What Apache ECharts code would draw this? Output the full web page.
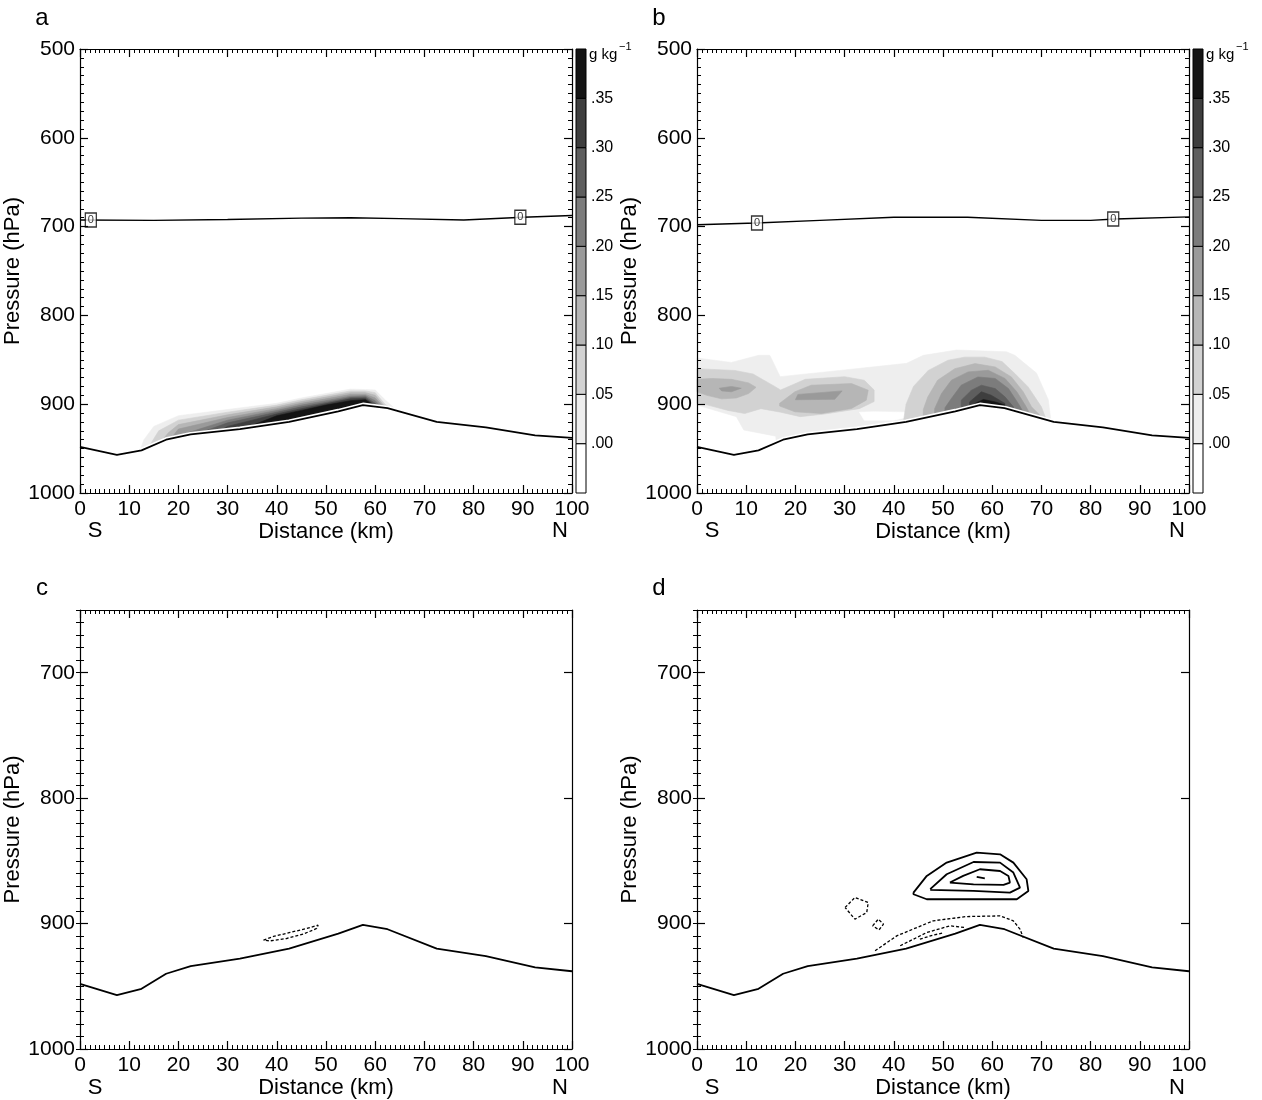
<!DOCTYPE html>
<html><head><meta charset="utf-8">
<script src="https://cdn.jsdelivr.net/npm/echarts@6/dist/echarts.min.js"></script>
<style>html,body{margin:0;padding:0;background:#fff}#c{width:1262px;height:1100px}</style>
</head><body><div id="c"></div>
<script>
// ---------------- DATA ----------------
const distTicks = [0,10,20,30,40,50,60,70,80,90,100];
const pTicksAB = [500,600,700,800,900,1000];
const pTicksCD = [700,800,900,1000];
const cbLevels = [-0.05,0,0.05,0.10,0.15,0.20,0.25,0.30,0.35,0.40];
const cbColors = ['#ffffff','#eeeeee','#d2d2d2','#b6b6b6','#9a9a9a','#7c7c7c','#5e5e5e','#3e3e3e','#141414'];

// terrain (distance km, pressure hPa)
const terrain = [[0,948],[7.5,957],[12.5,952],[17.5,940],[22.5,934],[32.5,928],[42.5,920],[52.5,908],[57.5,901],[62.5,904.5],[72.5,920],[82.5,926],[92.5,935],[100,938]];

// zero contours
const zeroA = [[0,692.5],[15,693],[30,692],[45,690.5],[55,690],[65,691],[78,692.5],[90,689.5],[100,687.5]];
const zeroB = [[0,698],[12,696],[25,693],[40,689.5],[55,689.5],[70,693],[80,693],[85,691.5],[100,689]];
const zeroLabA = [[2.2,692.5],[89.5,689.5]];
const zeroLabB = [[12.2,696],[84.6,691.5]];

// panel a filled contours (levels .00 ... .35)
const aL0 = [[12,990],[12,955],[13,940],[15,925],[20,913],[30,906],[40,899],[45,893],[50,888],[55,883],[58,883.5],[60,884],[62,895],[64,905],[67,915],[68,925],[68,990]];
const aL1 = [[14,990],[14,948],[16,930],[20,918],[30,909],[40,901],[45,895],[50,890],[55,885],[58,885],[60,887],[62,900],[64,908],[66,918],[66,990]];
const aL2 = [[16,990],[16,945],[18,932],[20,923],[30,912],[40,903],[45,897],[50,892],[55,887],[58,887],[60,890],[62,903],[64.5,912],[64.5,990]];
const aL3 = [[18,990],[18,942],[20,928],[30,915],[40,905],[45,899],[50,894],[55,889],[58,889],[60,893],[62,905],[63,910],[63,990]];
const aL4 = [[20,990],[20,937],[22,932],[30,918],[40,907],[45,901],[50,896],[55,891],[58,890.5],[60,896],[62,908],[62,990]];
const aL5 = [[24,990],[24,933],[30,921],[40,909],[45,903],[50,898],[55,892.5],[58,892],[60,899],[61.5,907],[61.5,990]];
const aL6 = [[28,990],[28,931],[30,925],[40,911],[45,905],[50,899.5],[55,894],[58,893.5],[60,901],[61,906],[61,990]];
const aL7 = [[34,990],[34,926],[40,913],[45,907],[50,901],[55,896],[58,895],[60,902],[60.5,906],[60.5,990]];

// panel b filled contours
const bL0 = [[0,848],[7,853],[12.5,845],[14.8,845],[16.9,869],[29,862],[42.6,854],[46,845],[52.8,839],[62.9,841],[64.6,845],[69,865],[71.4,895],[72,922],[72,990],[17,990],[16,936],[9.5,929],[8,914],[0,901]];
const bWhite = [[33,909],[36,908.5],[42,909],[44,913],[40,918],[34,918]];
const bL1a = [[0,860],[7.7,862],[11.4,866],[15.8,880],[17,884],[22,872],[30,869],[34,873],[36,884],[36,897],[33,905],[26,911],[21,914],[17,909],[13,905],[9.7,910.5],[6.3,907],[2.2,901],[0,899]];
const bL2a = [[0,872],[3,871],[7,872],[10.5,876],[12,881],[10.5,888],[8,893],[5,894],[2,890],[0,886]];
const bL3a = [[4.5,882],[7,880],[9,882],[7,886],[5,885]];
const bL2b = [[16.8,899],[19.9,886],[23.2,878.6],[31.4,876.8],[34.8,884.2],[34.4,895.5],[31.4,904.8],[25.3,910.5],[19.9,908.6],[16.8,902]];
const bL3b = [[20,895],[20.5,889],[29.5,885],[28,894.5]];
const bL1c = [[42,990],[42,918],[42.5,900],[44,880],[47,862],[51,850.5],[54.4,847],[58.5,847],[62,852],[64.6,865.5],[67.3,880.5],[70,903],[71.5,925],[71.5,990]];
const bL2c = [[45.5,990],[46,906],[46.9,892],[48.9,873],[52.4,860],[56.5,854.3],[60.6,858],[63.9,869.3],[66.3,886],[68,903],[70.7,918],[70.7,990]];
const bL3c = [[48,990],[48.3,905],[49.7,888],[51.7,873],[55.1,863.6],[59.2,861.8],[62.6,871],[65,886],[66.7,901],[68,914],[68,990]];
const bL4c = [[50.2,990],[50.4,904],[51.7,893.6],[53.7,878.6],[57.1,869.3],[60.6,871],[63.3,882.4],[65.3,899.2],[66.3,908.6],[66.3,990]];
const bL5c = [[53.3,990],[53.7,895.5],[55.8,884.2],[57.8,878.6],[60.6,882.4],[62.6,891.7],[64.3,903],[64.3,990]];
const bL6c = [[55,990],[55.4,897.4],[57.8,886],[59.8,889.9],[62.6,899.2],[62.6,990]];
const bL7c = [[56.3,990],[56.5,899.2],[58.2,894.7],[60.6,897.4],[62.6,901],[62.6,990]];

// panel c contour (dashed)
const cDash = [[37.3,913.2],[39.3,910.3],[42.7,907.1],[46.1,903.9],[48.4,901.3],[48.1,903.9],[45.4,908.4],[42,911.9],[38.6,913.8],[37.3,913.2]];

// panel d contours
const dSolid1 = [[44,875.3],[46.7,862],[50.75,851.4],[56.85,843.4],[61.6,844.8],[64.3,851.4],[67,864.7],[67.35,874],[65,880.6],[58.2,880.6],[46.7,880.6],[44,876.6],[44,875.3]];
const dSolid2 = [[47.4,872.6],[50.75,860.7],[56.2,850.9],[61.6,851.4],[64.3,859.3],[65.65,871.3],[63.6,875.3],[56.2,874],[47.4,873.1],[47.4,872.6]];
const dSolid3 = [[51.4,867.3],[54.1,862],[57.5,856.7],[61.6,858.1],[63.3,862],[63.6,867.3],[62.3,869.2],[56.2,868.7],[51.4,867.3]];
const dSolid4 = [[56.85,862.8],[58.5,863.9]];
const dDash1 = [[30.1,887.2],[32.1,879.2],[34.8,883.2],[34.5,891.2],[32.1,896.5],[30.1,887.2]];
const dDash2 = [[35.7,901.8],[36.85,896.5],[37.9,900.5],[37,905],[35.7,901.8]];
const dDash3 = [[36.2,921.7],[40.6,909.8],[48,897.8],[54.8,894.4],[61.6,893.9],[64.3,897.8],[65.65,904.5],[66.3,911.1]];
const dDash4 = [[41.3,917.7],[46.7,907.1],[51.4,901.8],[54.5,903.1]];
const dDash5 = [[45.3,912.4],[48,909.2],[49.9,907.6]];

// ---------------- CHART ----------------
const FONT = 'Liberation Sans, Arial, Helvetica, sans-serif';
const TICK = 21, NAME = 22;
const grids = [
  {left:80, top:49, width:492, height:444},
  {left:697, top:49, width:492, height:444},
  {left:80, top:610, width:492, height:440},
  {left:697, top:610, width:492, height:440},
  {left:576, top:49, width:10, height:444},
  {left:1193, top:49, width:10, height:444}
];
const xAxes = [], yAxes = [], series = [];
const xIdx = [], yIdx = [];
const lineS = {color:'#000', width:1.2};
const plain = v => String(v);

function addPanel(gi, yMin, yTicks) {
  xIdx[gi] = xAxes.length;
  const common = {gridIndex:gi, type:'value', min:0, max:100, interval:10, z:10,
    splitLine:{show:false},
    axisLine:{show:true, onZero:false, lineStyle:lineS},
    axisTick:{show:true, inside:true, length:8, lineStyle:lineS},
    minorTick:{show:true, splitNumber:10, length:4, lineStyle:{color:'#000', width:1}}};
  xAxes.push(Object.assign({}, common, {position:'bottom',
    name:'Distance (km)', nameLocation:'middle', nameGap:28,
    nameTextStyle:{fontSize:NAME, color:'#000', fontFamily:FONT},
    axisLabel:{show:true, fontSize:TICK, color:'#000', fontFamily:FONT, margin:6,
      customValues: distTicks, formatter: plain}}));
  xAxes.push(Object.assign({}, common, {position:'top', axisLabel:{show:false}}));
  yIdx[gi] = yAxes.length;
  const yc = {gridIndex:gi, type:'value', inverse:true, min:yMin, max:1000, z:10,
    splitLine:{show:false}, axisLine:{show:true, onZero:false, lineStyle:lineS}};
  const yName = {name:'Pressure (hPa)', nameLocation:'middle', nameGap:40, nameRotate:90,
      nameTextStyle:{fontSize:NAME, color:'#000', fontFamily:FONT}};
  if (yMin === 500) {
    const t = {interval:100, axisTick:{show:true, inside:true, length:8, lineStyle:lineS},
      minorTick:{show:true, splitNumber:10, length:4, lineStyle:{color:'#000', width:1}}};
    yAxes.push(Object.assign({}, yc, t, yName, {position:'left',
      axisLabel:{show:true, fontSize:TICK, color:'#000', fontFamily:FONT, margin:5, customValues: yTicks, formatter: plain}}));
    yAxes.push(Object.assign({}, yc, t, {position:'right', axisLabel:{show:false}}));
  } else {
    const major = {interval:50, axisTick:{show:true, inside:true, length:8, lineStyle:lineS, customValues: yTicks}};
    const minor = {interval:10, axisLine:{show:false}, axisLabel:{show:false},
      axisTick:{show:true, inside:true, length:4, lineStyle:{color:'#000', width:1}}};
    yAxes.push(Object.assign({}, yc, major, yName, {position:'left',
      axisLabel:{show:true, fontSize:TICK, color:'#000', fontFamily:FONT, margin:5, customValues: yTicks,
        formatter: v => (v % 100 === 0 ? String(v) : '')}}));
    yAxes.push(Object.assign({}, yc, major, {position:'right', axisLabel:{show:false}}));
    yAxes.push(Object.assign({}, yc, minor, {position:'left'}));
    yAxes.push(Object.assign({}, yc, minor, {position:'right'}));
  }
}
addPanel(0, 500, pTicksAB);
addPanel(1, 500, pTicksAB);
addPanel(2, 650, pTicksCD);
addPanel(3, 650, pTicksCD);

function addColorbar(gi) {
  xIdx[gi] = xAxes.length;
  xAxes.push({gridIndex:gi, type:'value', min:0, max:1, show:false});
  yIdx[gi] = yAxes.length;
  yAxes.push({gridIndex:gi, type:'value', min:-0.05, max:0.40, interval:0.05, position:'right',
    splitLine:{show:false}, axisLine:{show:false}, axisTick:{show:false},
    axisLabel:{show:true, fontSize:16, color:'#000', fontFamily:FONT, margin:5,
      formatter: v => (v < -0.01 || v > 0.375) ? '' : '.' + String(Math.round(v*100)).padStart(2,'0')}});
  const data = [];
  for (let i = 0; i < cbColors.length; i++) data.push([cbLevels[i], cbLevels[i+1], i]);
  series.push({type:'custom', xAxisIndex:xIdx[gi], yAxisIndex:yIdx[gi], data: data, silent:true,
    renderItem: function(params, api) {
      const p1 = api.coord([0, api.value(1)]);
      const p2 = api.coord([1, api.value(0)]);
      return {type:'rect', shape:{x:p1[0], y:p1[1], width:p2[0]-p1[0], height:p2[1]-p1[1]},
        style:{fill: cbColors[api.value(2)], stroke:'#000', lineWidth:1}};
    }});
}
addColorbar(4);
addColorbar(5);

function poly(pts, color, gi) {
  series.push({type:'custom', xAxisIndex:xIdx[gi], yAxisIndex:yIdx[gi], data: pts, silent:true, z:2,
    renderItem: function(params, api) {
      if (params.dataIndex !== 0) return null;
      const points = pts.map(p => api.coord(p));
      return {type:'polygon', shape:{points: points}, style:{fill: color, stroke: color, lineWidth:0.6}};
    }});
}
function line(pts, gi, style, z) {
  series.push({type:'line', xAxisIndex:xIdx[gi], yAxisIndex:yIdx[gi], data: pts, symbol:'none',
    silent:true, z: z || 4, lineStyle: style});
}
function mask(gi) {
  series.push({type:'line', xAxisIndex:xIdx[gi], yAxisIndex:yIdx[gi], data: terrain, symbol:'none',
    silent:true, z:3, lineStyle:{color:'#fff', width:5}, areaStyle:{color:'#fff', opacity:1, origin:'end'}});
}
function labels(pts, gi) {
  series.push({type:'scatter', xAxisIndex:xIdx[gi], yAxisIndex:yIdx[gi], data: pts, silent:true, z:6,
    symbol:'rect', symbolSize:[11,14],
    itemStyle:{color:'#fff', borderColor:'#000', borderWidth:1.4},
    label:{show:true, position:'inside', formatter:'0', fontSize:11, color:'#000', fontFamily:FONT}});
}
const C = cbColors;
// panel a
[aL0,aL1,aL2,aL3,aL4,aL5,aL6,aL7].forEach((p,i) => poly(p, C[i+1], 0));
mask(0);
line(terrain, 0, {color:'#000', width:1.8});
line(zeroA, 0, {color:'#000', width:1.4});
labels(zeroLabA, 0);
// panel b
poly(bL0, C[1], 1);
poly(bWhite, '#ffffff', 1);
poly(bL1a, C[2], 1); poly(bL2a, C[3], 1); poly(bL3a, C[4], 1);
poly(bL2b, C[3], 1); poly(bL3b, C[4], 1);
[bL1c,bL2c,bL3c,bL4c,bL5c,bL6c,bL7c].forEach((p,i) => poly(p, C[i+2], 1));
mask(1);
line(terrain, 1, {color:'#000', width:1.8});
line(zeroB, 1, {color:'#000', width:1.4});
labels(zeroLabB, 1);
// panel c
line(terrain, 2, {color:'#000', width:1.8});
line(cDash, 2, {color:'#000', width:1.3, type:[3,2]});
// panel d
line(terrain, 3, {color:'#000', width:1.8});
[dSolid1,dSolid2,dSolid3,dSolid4].forEach(p => line(p, 3, {color:'#000', width:1.8}));
[dDash1,dDash2,dDash3,dDash4,dDash5].forEach(p => line(p, 3, {color:'#000', width:1.3, type:[3,2]}));

function txt(s, x, y, size, align) {
  return {type:'text', x:x, y:y, silent:true,
    style:{text:s, fill:'#000', font: size + 'px ' + FONT, textAlign: align || 'center', textVerticalAlign:'middle', align: align || 'center', verticalAlign:'middle'}};
}
const graphics = [
  txt('a', 42, 18, 24), txt('b', 659, 18, 24), txt('c', 42, 588, 24), txt('d', 659, 588, 24),
  txt('S', 95, 531, NAME), txt('N', 560, 531, NAME), txt('S', 712, 531, NAME), txt('N', 1177, 531, NAME),
  txt('S', 95, 1088, NAME), txt('N', 560, 1088, NAME), txt('S', 712, 1088, NAME), txt('N', 1177, 1088, NAME),
  txt('g kg', 589, 55, 15, 'left'), txt('\u22121', 619, 47, 11, 'left'),
  txt('g kg', 1206, 55, 15, 'left'), txt('\u22121', 1236, 47, 11, 'left')
];

const chart = echarts.init(document.getElementById('c'), null, {renderer:'canvas'});
chart.setOption({
  animation:false, backgroundColor:'#fff',
  grid: grids, xAxis: xAxes, yAxis: yAxes, series: series, graphic: graphics
});
</script></body></html>
